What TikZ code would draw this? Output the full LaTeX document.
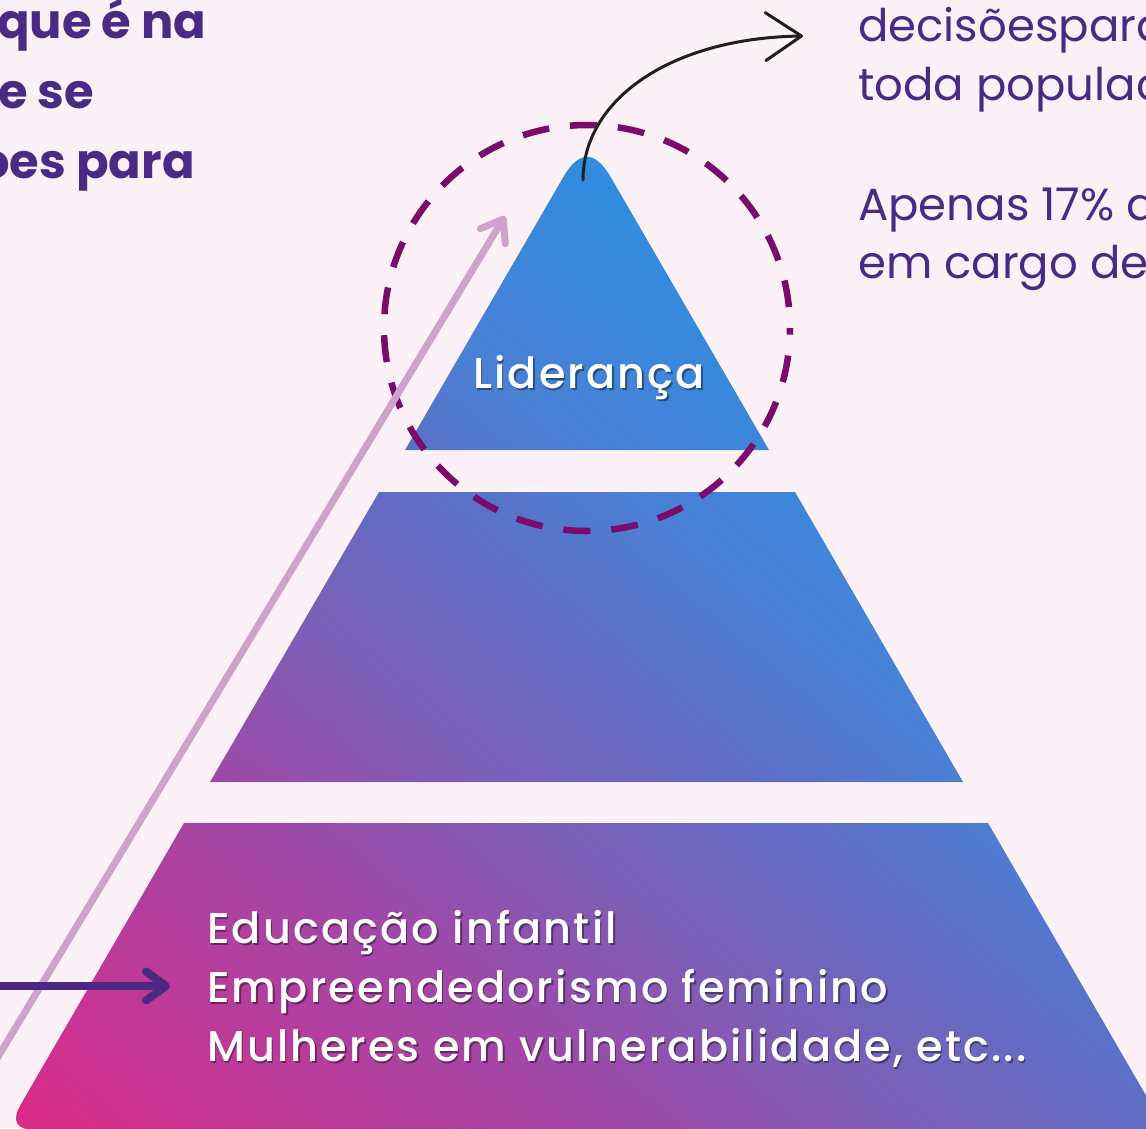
\documentclass[tikz,border=0pt]{standalone}
\usepackage{fontspec}
\setmainfont{Poppins}
\newfontfamily\popwide{Poppins Medium}[LetterSpace=5]
\usetikzlibrary{arrows.meta}
\definecolor{bgpink}{HTML}{FCF1F7}
\definecolor{ink}{HTML}{4A2A84}
\definecolor{ringc}{HTML}{7B0C6E}
\definecolor{lilac}{HTML}{CFA2CC}
\definecolor{arrowpurple}{HTML}{4B2883}
\definecolor{gA}{HTML}{DC2A86}
\definecolor{gB}{HTML}{A048A8}
\definecolor{gC}{HTML}{7F5DB5}
\definecolor{gD}{HTML}{5B70C7}
\definecolor{gE}{HTML}{4A80D5}
\definecolor{gF}{HTML}{2F8DE0}
\pgfdeclarehorizontalshading{pyrgrad}{100bp}{color(0bp)=(gA); color(25bp)=(gA); color(42bp)=(gB); color(49bp)=(gC); color(58bp)=(gD); color(63bp)=(gE); color(73bp)=(gF); color(100bp)=(gF)}
\begin{document}
\begin{tikzpicture}[x=1pt,y=-1pt,
  headtxt/.style={anchor=base west, inner sep=0pt, text=ink, font=\fontsize{48}{48}\selectfont\bfseries},
  sidetxt/.style={anchor=base west, inner sep=0pt, text=ink, font=\fontsize{45}{45}\selectfont},
  wtxt/.style={anchor=base west, inner sep=0pt, text=white, font=\popwide\fontsize{43}{43}\selectfont},
  shtxt/.style={anchor=base west, inner sep=0pt, text=black, opacity=0.4, font=\popwide\fontsize{43}{43}\selectfont},
  barb/.style={-{Straight Barb[length=20pt,width=29pt,round]}}
]
\useasboundingbox (0,0) rectangle (1146,1128);
\fill[bgpink] (0,0) rectangle (1146,1128);
\clip (0,0) rectangle (1146,1128);

% pyramid with one shared gradient
\begin{scope}
  \clip (405,450) -- (563,177.6) .. controls (579,149.9) and (595,149.9) .. (611,177.6) -- (769,450) -- cycle
        (379,492) -- (795,492) -- (963,782) -- (210,782) -- cycle
        (184,823) -- (988,823) -- (1166,1130) -- (36,1130) .. controls (16,1130) and (11,1121.3) .. (21,1104) -- cycle;
  \begin{scope}[transform canvas={rotate around={50:(580,640)}}]
    \shade[shading=pyrgrad] (-165,-260) rectangle (1005,1540);
  \end{scope}
\end{scope}

% texts
\node[headtxt] (h1) at (-3,38) {que é na};
\node[headtxt] (h2) at (-2,108) {e se};
\node[headtxt] (h3) at (-21,178) {oes para};

\node[sidetxt] (s1) at (858,41) {decisõespara};
\node[sidetxt] (s2) at (858,100) {toda população};
\node[sidetxt] (s3) at (858,220) {Apenas 17\% das};
\node[sidetxt] (s4) at (858,278) {em cargo de};

\node[shtxt] (lidsh) at (474.5,390.5) {Liderança};
\node[wtxt] (lid) at (473,388) {Liderança};

\node[shtxt] (l1sh) at (208.5,945.5) {Educação infantil};
\node[shtxt] (l2sh) at (208.5,1004.5) {Empreendedorismo feminino};
\node[shtxt] (l3sh) at (208.5,1063.5) {Mulheres em vulnerabilidade, etc...};
\node[wtxt] (l1) at (207,943) {Educação infantil};
\node[wtxt] (l2) at (207,1002) {Empreendedorismo feminino};
\node[wtxt] (l3) at (207,1061) {Mulheres em vulnerabilidade, etc...};

% dashed ring
\node[circle, minimum size=406pt, inner sep=0pt, draw=ringc, line width=6.5pt,
      dash pattern=on 27pt off 21pt, dash phase=27pt] (ring) at (587,328) {};

% arrows
\coordinate (pinkstart) at (-60,1153);
\coordinate (pinktip) at (505,216);
\draw[lilac, line width=7pt, line cap=round, barb] (pinkstart) -- (pinktip);

\coordinate (pstart) at (-20,986);
\draw[arrowpurple, line width=8pt, line cap=round, barb] (pstart) -- ([shift={(-37,-16)}]l2.base west);

\coordinate (apex) at (583,180);
\coordinate (btip) at (803,36);
\draw[black!88, line width=3pt, line cap=round,
      -{Straight Barb[length=36pt,width=48pt,round]}]
      (apex) .. controls (583,100) and (670,38) .. (btip);
\end{tikzpicture}
\end{document}
